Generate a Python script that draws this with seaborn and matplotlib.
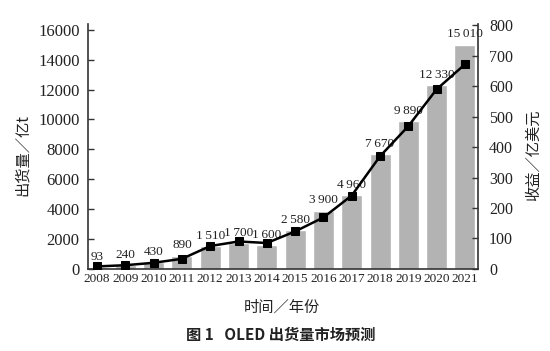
import numpy as np
import pandas as pd
import matplotlib
matplotlib.use("Agg")
import matplotlib.pyplot as plt
import seaborn as sns

years = ["2008", "2009", "2010", "2011", "2012", "2013", "2014",
         "2015", "2016", "2017", "2018", "2019", "2020", "2021"]
shipments = [93, 240, 430, 890, 1510, 1700, 1600, 2580, 3900, 4960,
             7670, 9890, 12330, 15010]
shipment_labels = ["93", "240", "430", "890", "1\u2009510", "1\u2009700", "1\u2009600",
                   "2\u2009580", "3\u2009900", "4\u2009960", "7\u2009670", "9\u2009890",
                   "12\u2009330", "15\u2009010"]
revenue = [8, 12, 20, 33, 75, 90, 85, 123, 169, 241, 370, 469, 590, 672]
left_ticks = [0, 2000, 4000, 6000, 8000, 10000, 12000, 14000, 16000]
right_ticks = [0, 100, 200, 300, 400, 500, 600, 700, 800]

sns.set_theme(style="white")
serif = ["Liberation Serif", "DejaVu Serif"]
cjk = ["Noto Sans CJK SC", "DejaVu Sans"]
plt.rcParams["font.family"] = serif

df = pd.DataFrame({"year": years, "ship": shipments,
                   "pos": np.arange(len(years)), "rev": revenue})

fig = plt.figure(figsize=(5.5, 3.51), dpi=100)
ax = fig.add_axes([0.16, 0.234, 0.709, 0.698])
sns.barplot(data=df, x="year", y="ship", color="#b3b3b3", saturation=1,
            width=0.74, ax=ax)
ax.set_xlim(-0.32, 13.46)
ax.set_ylim(0, 16400)
ax.set_yticks(left_ticks)
ax.set_yticklabels([str(t) for t in left_ticks], fontsize=12, color="#222222")
ax.tick_params(axis="y", direction="in", length=4, width=1, color="#333333", pad=6)
ax.tick_params(axis="x", length=0, labelsize=9.5, labelcolor="#222222", pad=3)
for s in ["top", "right"]:
    ax.spines[s].set_visible(False)
for s in ["left", "bottom"]:
    ax.spines[s].set_color("#333333")
    ax.spines[s].set_linewidth(1.2)
ax.set_xlabel("")
ax.set_ylabel("")

for i, (v, lab) in enumerate(zip(shipments, shipment_labels)):
    ax.annotate(lab, (i, v), xytext=(0, 3), textcoords="offset points",
                ha="center", va="bottom", fontsize=9.5, color="#222222")

ax2 = ax.twinx()
sns.lineplot(data=df, x="pos", y="rev", ax=ax2, color="black", linewidth=1.8,
             marker="s", markersize=6, markeredgecolor="black")
ax2.set_ylim(0, 805)
ax2.set_xlim(-0.32, 13.46)
ax2.set_yticks(right_ticks)
ax2.set_yticklabels([str(t) for t in right_ticks], fontsize=11.5, color="#222222")
ax2.tick_params(axis="y", direction="in", length=4, width=1, color="#333333", pad=8)
for s in ["top", "left", "bottom"]:
    ax2.spines[s].set_visible(False)
ax2.spines["right"].set_color("#333333")
ax2.spines["right"].set_linewidth(1.2)
ax2.set_xlabel("")
ax2.set_ylabel("")

fig.text(0.04, 0.558, "出货量／亿t", rotation=90, ha="center", va="center",
         fontsize=11, family=cjk, color="#222222")
fig.text(0.969, 0.558, "收益／亿美元", rotation=90, ha="center", va="center",
         fontsize=11, family=cjk, color="#222222")
fig.text(0.513, 0.125, "时间／年份", ha="center", va="center",
         fontsize=11, family=cjk, color="#222222")
fig.text(0.51, 0.045, "图 1   OLED 出货量市场预测", ha="center", va="center",
         fontsize=11, family=cjk, fontweight="bold", color="#222222")

fig.savefig("out.png", dpi=100)
